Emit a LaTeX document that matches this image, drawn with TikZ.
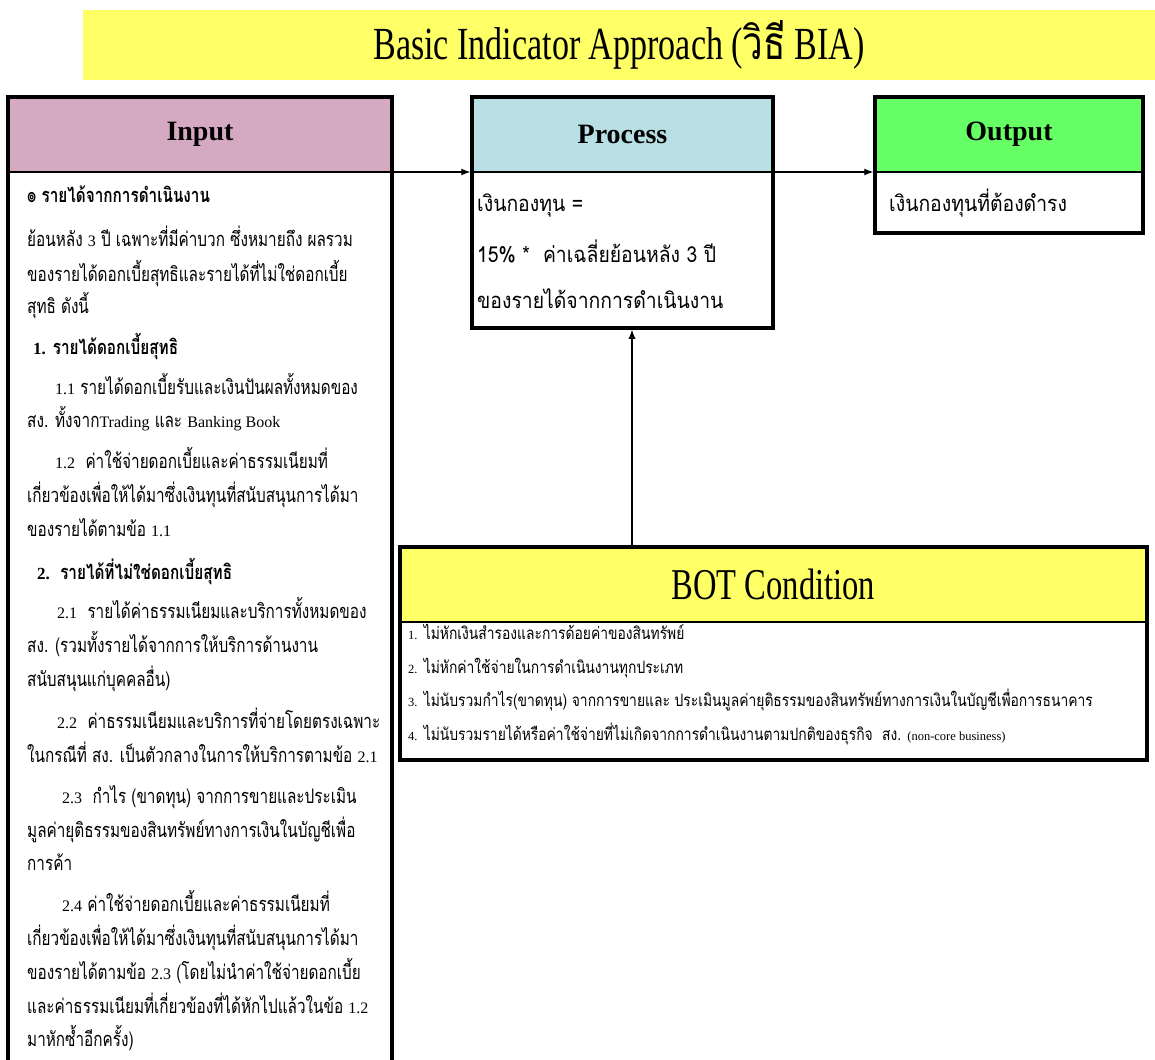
\documentclass[tikz,border=0pt]{standalone}
\usepackage{fontspec}
\usetikzlibrary{arrows.meta}
\setmainfont{Liberation Serif}
\newfontfamily\thaiserif[Script=Thai,FakeStretch=0.765]{Loma}
\newfontfamily\thaisans[Script=Thai,FakeStretch=0.88]{Loma}
\newfontfamily\thaicond[Script=Thai,FakeStretch=0.815]{Loma}
\newfontfamily\thaititle[Script=Thai,FakeStretch=0.8]{Loma}
\newfontfamily\titlefont[FakeStretch=0.74]{Liberation Serif}
\newfontfamily\latserif{Liberation Serif}
\newcommand\latw[1]{{\latserif\fontsize{16}{20}\selectfont #1}}
\newcommand\latb[1]{{\latserif\bfseries\fontsize{17}{20}\selectfont #1}}
\newcommand\latsm[1]{{\latserif\fontsize{12.5}{14}\selectfont #1}}
\definecolor{bandyellow}{HTML}{FFFF66}
\definecolor{inpink}{HTML}{D5A9C2}
\definecolor{procyan}{HTML}{B8DFE3}
\definecolor{outgreen}{HTML}{66FF66}
\begin{document}
\begin{tikzpicture}[x=1pt,y=-1pt,
  boxframe/.style={draw=black, line width=3.5pt, inner sep=0pt, outer sep=0pt, anchor=north west},
  boxhead/.style={draw=black, line width=1.2pt, inner sep=0pt, outer sep=0pt, anchor=north west,
    minimum height=75pt, font=\latserif\bfseries\fontsize{28}{30}\selectfont},
  conn/.style={-{Latex[length=9pt,width=7pt]}, line width=1.1pt},
  inln/.style={anchor=base west, inner sep=0pt, font=\thaiserif\fontsize{20}{24}\selectfont},
  inbold/.style={anchor=base west, inner sep=0pt, font=\thaiserif\bfseries\fontsize{20}{24}\selectfont},
  proln/.style={anchor=base west, inner sep=0pt, font=\thaisans\fontsize{22}{26}\selectfont},
  botln/.style={anchor=base west, inner sep=0pt, font=\thaicond\fontsize{17}{20}\selectfont}]
\useasboundingbox (0,0) rectangle (1155,1059);
\clip (0,0) rectangle (1155,1059);
\fill[white] (0,0) rectangle (1155,1059);

% title band
\node[fill=bandyellow, inner sep=0pt, outer sep=0pt, anchor=north west,
      minimum width=1072pt, minimum height=70pt,
      font=\titlefont\fontsize{46}{50}\selectfont] (title) at (83,10)
      {Basic Indicator Approach ({\thaititle วิธี} BIA)};

% the four boxes: coloured heading strip, then a heavy frame on top
\node[boxhead, fill=inpink, minimum width=384pt] (inhead) at (8,97) {Input};
\node[boxframe, minimum width=384pt, minimum height=990pt] (inbox) at (8,97) {};

\node[boxhead, fill=procyan, minimum width=301pt] (prohead) at (472,97) {Process};
\node[boxframe, minimum width=301pt, minimum height=231pt] (probox) at (472,97) {};

\node[boxhead, fill=outgreen, minimum width=268pt] (outhead) at (875,97) {Output};
\node[boxframe, minimum width=268pt, minimum height=136pt] (outbox) at (875,97) {};

\node[boxhead, fill=bandyellow, minimum width=747pt,
      font=\titlefont\fontsize{44}{48}\selectfont] (bothead) at (400,547) {BOT Condition};
\node[boxframe, minimum width=747pt, minimum height=213pt] (botbox) at (400,547) {};

% input text
\node[inbold] (in1) at (27,203) {๏ รายได้จากการดำเนินงาน};
\node[inln] (in2) at (27,247) {ย้อนหลัง \latw{3} ปี เฉพาะที่มีค่าบวก ซึ่งหมายถึง ผลรวม};
\node[inln] (in3) at (27,281) {ของรายได้ดอกเบี้ยสุทธิและรายได้ที่ไม่ใช่ดอกเบี้ย};
\node[inln] (in4) at (27,313) {สุทธิ ดังนี้};
\node[inbold] (in5) at (33,354) {\latb{1.} รายได้ดอกเบี้ยสุทธิ};
\node[inln] (in6) at (55,394) {\latw{1.1} รายได้ดอกเบี้ยรับและเงินปันผลทั้งหมดของ};
\node[inln] (in7) at (27,427) {สง. ทั้งจาก\latw{Trading} และ \latw{Banking Book}};
\node[inln] (in8) at (55,468) {\latw{1.2}\ \ ค่าใช้จ่ายดอกเบี้ยและค่าธรรมเนียมที่};
\node[inln] (in9) at (27,502) {เกี่ยวข้องเพื่อให้ได้มาซึ่งเงินทุนที่สนับสนุนการได้มา};
\node[inln] (in10) at (27,536) {ของรายได้ตามข้อ \latw{1.1}};
\node[inbold] (in11) at (37,579) {\latb{2.}\ \ รายได้ที่ไม่ใช่ดอกเบี้ยสุทธิ};
\node[inln] (in12) at (57,618) {\latw{2.1}\ \ รายได้ค่าธรรมเนียมและบริการทั้งหมดของ};
\node[inln] (in13) at (27,652) {สง. (รวมทั้งรายได้จากการให้บริการด้านงาน};
\node[inln] (in14) at (27,686) {สนับสนุนแก่บุคคลอื่น)};
\node[inln] (in15) at (57,728) {\latw{2.2}\ \ ค่าธรรมเนียมและบริการที่จ่ายโดยตรงเฉพาะ};
\node[inln] (in16) at (27,762) {ในกรณีที่ สง. เป็นตัวกลางในการให้บริการตามข้อ \latw{2.1}};
\node[inln] (in17) at (62,803) {\latw{2.3}\ \ กำไร (ขาดทุน) จากการขายและประเมิน};
\node[inln] (in18) at (27,837) {มูลค่ายุติธรรมของสินทรัพย์ทางการเงินในบัญชีเพื่อ};
\node[inln] (in19) at (27,870) {การค้า};
\node[inln] (in20) at (62,911) {\latw{2.4} ค่าใช้จ่ายดอกเบี้ยและค่าธรรมเนียมที่};
\node[inln] (in21) at (27,945) {เกี่ยวข้องเพื่อให้ได้มาซึ่งเงินทุนที่สนับสนุนการได้มา};
\node[inln] (in22) at (27,979) {ของรายได้ตามข้อ \latw{2.3} (โดยไม่นำค่าใช้จ่ายดอกเบี้ย};
\node[inln] (in23) at (27,1013) {และค่าธรรมเนียมที่เกี่ยวข้องที่ได้หักไปแล้วในข้อ \latw{1.2}};
\node[inln] (in24) at (27,1046) {มาหักซ้ำอีกครั้ง)};

% process text
\node[proln] (pro1) at (477,212) {เงินกองทุน =};
\node[proln] (pro2) at (477,262) {15\% *\ \ ค่าเฉลี่ยย้อนหลัง 3 ปี};
\node[proln] (pro3) at (477,308) {ของรายได้จากการดำเนินงาน};

% output text
\node[proln] (out1) at (889,212) {เงินกองทุนที่ต้องดำรง};

% conditions
\node[botln] (bot1) at (408,639) {\latsm{1.} ไม่หักเงินสำรองและการด้อยค่าของสินทรัพย์};
\node[botln] (bot2) at (408,673) {\latsm{2.} ไม่หักค่าใช้จ่ายในการดำเนินงานทุกประเภท};
\node[botln] (bot3) at (408,706) {\latsm{3.} ไม่นับรวมกำไร(ขาดทุน) จากการขายและ ประเมินมูลค่ายุติธรรมของสินทรัพย์ทางการเงินในบัญชีเพื่อการธนาคาร};
\node[botln] (bot4) at (408,740) {\latsm{4.} ไม่นับรวมรายได้หรือค่าใช้จ่ายที่ไม่เกิดจากการดำเนินงานตามปกติของธุรกิจ\ \ สง. \latsm{(non-core business)}};

% connectors
\draw[conn, shorten >=1.75pt] (inhead.south east) -- (prohead.south west);
\draw[conn, shorten >=1.75pt] (prohead.south east) -- (outhead.south west);
\coordinate (proin) at ([xshift=9.5pt]probox.south);
\draw[conn, shorten >=1.75pt] (proin |- botbox.north) -- (proin);
\end{tikzpicture}
\end{document}
